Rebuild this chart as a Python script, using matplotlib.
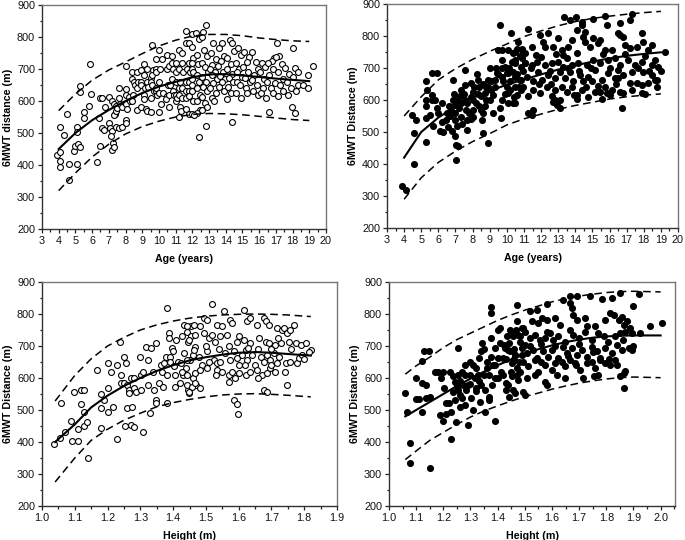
import matplotlib
matplotlib.use("Agg")
import matplotlib.pyplot as plt
from matplotlib.ticker import MultipleLocator

plt.rcParams['font.family'] = ['Liberation Sans', 'DejaVu Sans']

# ---------------- Top-left: age vs 6MWT (open circles) ----------------
tl_points = [
    (3.9,432),(4.05,442),(4.05,520),(4.1,413),(4.1,395),(4.3,493),(4.5,558),(4.6,403),(4.6,352),
    (4.9,445),(4.95,460),(5.1,518),(5.1,503),(5.15,465),(5.1,403),(5.3,648),(5.25,628),(5.3,455),
    (5.5,565),(5.5,548),(5.8,583),(5.9,715),(5.95,622),(6.3,408),(6.45,608),(6.4,548),(6.5,460),
    (6.6,610),(6.6,515),(6.7,510),(6.8,580),(7.0,612),(7.0,532),(7.05,517),(7.2,600),(7.2,505),
    (7.15,490),(7.25,470),(7.2,448),(7.3,455),(7.3,590),(7.35,560),(7.4,585),(7.3,555),(7.45,570),
    (7.5,578),(7.45,520),(7.6,642),(7.6,610),(7.65,590),(7.6,515),(7.8,580),(7.8,520),(8.0,708),
    (8.0,637),(8.05,620),(8.0,590),(8.1,575),(8.0,540),(8.0,530),(8.2,612),(8.25,600),(8.4,690),
    (8.4,670),(8.45,620),(8.4,600),(8.5,660),(8.55,650),(8.7,690),(8.7,640),(8.75,660),(8.7,572),
    (8.9,698),(8.9,660),(8.95,650),(8.9,580),(9.1,715),(9.1,680),(9.15,640),(9.1,620),(9.1,605),
    (9.2,575),(9.3,700),(9.3,660),(9.35,645),(9.3,570),(9.5,672),(9.5,660),(9.5,610),(9.55,565),
    (9.6,775),(9.65,698),(9.6,680),(9.6,650),(9.7,630),(9.8,730),(9.8,700),(9.85,690),(9.8,630),
    (9.9,620),(9.85,640),(10.0,760),(10.05,700),(10.0,660),(10.0,625),(10.1,590),(10.0,565),
    (10.2,730),(10.25,625),(10.5,745),(10.5,700),(10.55,650),(10.5,615),(10.45,605),(10.6,710),
    (10.65,650),(10.6,620),(10.6,580),(10.8,740),(10.8,720),(10.85,700),(10.8,670),(10.85,630),
    (10.9,620),(11.0,720),(11.0,690),(11.05,660),(11.0,620),(11.0,600),(11.1,610),(11.2,760),
    (11.2,700),(11.25,660),(11.2,640),(11.2,620),(11.25,580),(11.2,550),(11.3,570),(11.4,750),
    (11.4,720),(11.45,690),(11.4,640),(11.4,610),(11.6,820),(11.6,780),(11.65,700),(11.6,660),
    (11.6,630),(11.6,610),(11.6,575),(11.8,780),(11.8,720),(11.85,690),(11.8,660),(11.8,630),
    (11.8,615),(11.8,560),(12.0,810),(12.0,770),(12.05,735),(12.0,720),(12.0,700),(12.05,690),
    (12.0,670),(12.0,650),(12.0,630),(12.05,600),(12.0,560),
    (12.2,812),(12.4,793),(12.3,745),(12.35,715),(12.25,680),(12.4,660),(12.3,640),(12.45,620),
    (12.3,600),(12.45,572),(12.26,562),(12.1,557),(12.4,489),
    (12.82,836),(12.62,815),(12.55,800),(12.7,760),(12.9,740),(12.6,720),(12.75,705),(12.95,690),
    (12.55,675),(12.8,660),(12.65,645),(12.9,630),(12.6,612),(12.75,595),(12.85,580),(12.55,572),
    (12.82,522),
    (13.26,782),(13.1,750),(13.4,730),(13.2,712),(13.05,700),(13.35,690),(13.15,680),(13.45,668),
    (13.25,655),(13.05,640),(13.4,625),(13.2,610),(13.3,600),
    (13.76,780),(13.6,765),(13.9,740),(13.7,725),(13.55,710),(13.85,690),(13.65,678),(13.95,668),
    (13.75,660),(13.6,645),(13.9,630),
    (14.25,790),(14.4,782),(14.5,757),(14.1,735),(14.3,715),(14.05,700),(14.35,685),(14.2,672),
    (14.45,660),(14.15,645),(14.3,625),(14.1,605),(14.35,533),
    (14.75,765),(14.9,745),(14.6,720),(14.8,700),(14.65,690),(14.95,675),(14.7,660),(14.85,650),
    (14.6,625),(14.9,610),
    (15.1,752),(15.4,739),(15.25,723),(15.05,705),(15.35,690),(15.15,672),(15.45,660),(15.2,640),
    (15.3,625),
    (15.6,752),(15.8,722),(15.95,700),(15.7,680),(15.55,665),(15.85,650),(15.65,630),(15.9,620),
    (16.15,718),(16.35,705),(16.05,690),(16.3,670),(16.45,660),(16.2,640),(16.1,625),(16.4,610),
    (16.9,733),(16.75,726),(16.55,718),(16.85,700),(16.6,680),(16.95,655),(16.7,640),(16.8,625),
    (16.6,567),
    (17.05,780),(17.2,742),(17.0,739),(17.35,715),(17.1,690),(17.45,670),(17.25,650),(17.4,632),
    (17.15,615),
    (17.55,702),(17.8,685),(17.65,660),(17.9,640),(17.7,620),(17.95,580),
    (18.0,767),(18.15,702),(18.35,692),(18.05,675),(18.3,650),(18.2,630),(18.15,562),
    (18.9,680),(18.6,650),(18.9,640),(19.2,710),
]
tl_curve_age = [4, 5, 6, 7, 8, 9, 10, 11, 12, 13, 14, 15, 16, 17, 18, 19]
tl_mean  = [450, 500, 540, 572, 600, 625, 645, 660, 674, 683, 684, 680, 675, 670, 666, 662]
tl_upper = [570, 622, 665, 697, 722, 748, 772, 790, 803, 808, 808, 804, 797, 792, 788, 786]
tl_lower = [320, 375, 425, 465, 497, 520, 537, 550, 558, 561, 560, 557, 552, 547, 542, 539]

# ---------------- Top-right: age vs 6MWT (filled dots) ----------------
tr_points = [
    (3.88,330),(4.1,318),(4.48,553),(4.71,538),(4.6,496),(4.6,401),(5.3,658),(5.35,632),(5.3,600),
    (5.3,580),(5.3,543),(5.3,470),(5.6,684),(5.65,616),(5.65,600),(5.5,553),(5.7,519),(5.95,684),
    (5.95,575),(6.0,558),(6.1,502),(6.45,538),(6.55,517),(6.75,570),(6.7,550),(6.8,502),(6.85,663),
    (6.85,600),(6.95,585),(7.0,560),(6.95,538),(7.0,486),(7.05,413),(7.05,460),(7.15,455),
    (7.25,611),(7.35,590),(7.35,548),(7.4,525),(7.55,694),(7.55,647),(7.55,600),(7.6,569),
    (7.65,538),(7.65,507),(7.9,652),(8.0,626),(8.0,600),(8.0,569),(8.0,548),(8.3,663),(8.4,642),
    (8.5,611),(8.5,569),(8.55,538),(8.6,496),(8.7,621),(8.8,600),(8.9,642),(8.9,663),(8.9,467),
    (9.1,632),(9.2,616),(9.3,663),(9.4,684),(9.6,834),(9.5,756),(9.7,756),(9.7,725),(9.7,699),
    (9.7,673),(9.7,600),(9.6,574),(9.65,543),(9.9,704),(10.0,684),(10.0,642),(10.05,621),
    (10.05,590),(10.25,808),(10.35,746),(10.45,715),(10.45,673),(10.45,642),(10.5,590),
    (10.75,736),(10.85,704),(10.85,663),(10.85,632),(11.05,746),(11.05,715),
    (6.2,530),(6.5,560),(6.6,580),(6.9,620),(7.1,600),(7.2,575),(7.3,630),(7.5,620),(7.7,590),
    (7.8,560),(7.9,610),(8.1,640),(8.2,590),(8.3,620),(8.4,580),(8.6,650),(8.7,580),(8.8,640),
    (9.0,600),(9.1,660),(9.3,640),(9.35,700),(9.5,680),(9.8,660),(9.9,620),(10.1,700),(10.2,660),
    (10.3,720),(10.6,680),(10.7,640),(10.9,760),(10.95,690),(6.3,500),(7.1,520),(7.9,540),
    (8.25,680),(8.6,560),(9.2,560),(9.0,700),(10.4,610),(10.6,760),(5.8,600),(6.2,590),
    (13.36,858),(13.7,850),(14.04,858),(14.4,845),(14.4,834),(15.05,852),(15.73,862),(16.6,840),
    (17.29,869),(17.2,850),(15.83,834),(11.25,821),(11.93,803),(12.42,808),(14.08,819),
    (14.47,798),(14.56,811),(10.67,782),(12.13,782),(13.0,793),(13.78,787),(14.56,782),
    (15.05,793),(15.44,787),(16.5,808),(16.6,803),(16.8,798),(17.87,808),(17.97,782),
    (10.08,756),(10.47,751),(10.86,756),(11.45,767),(12.23,767),(12.71,767),(13.2,756),
    (13.59,767),(14.08,746),(14.85,767),(15.34,777),(15.73,756),(16.12,756),(16.9,772),
    (17.2,762),(17.6,767),(18.26,756),(18.46,772),
    (10.47,725),(10.86,730),(11.06,715),(11.45,710),(11.74,720),(12.23,710),(12.62,715),
    (13.0,720),(13.3,704),(13.49,730),(13.78,710),(14.17,715),(14.66,710),(15.05,725),
    (15.44,715),(15.92,725),(16.32,730),(16.6,710),(17.09,725),(17.48,710),(18.07,736),
    (18.46,710),(18.85,704),(18.65,725),
    (10.08,684),(10.38,689),(10.77,663),(11.16,673),(11.55,658),(11.84,689),(12.03,663),
    (12.42,678),(12.81,668),(13.1,689),(13.4,668),(13.69,689),(13.88,658),(14.27,678),
    (14.47,658),(14.76,673),(15.15,694),(15.54,663),(15.93,684),(16.32,668),(16.51,694),
    (16.8,678),(17.29,689),(17.68,699),(17.97,689),(18.46,678),(18.75,663),(19.24,749),
    (10.18,632),(10.57,616),(10.96,642),(11.25,611),(11.55,632),(11.93,621),(12.32,642),
    (12.62,611),(12.81,632),(13.1,600),(13.49,626),(13.78,642),(14.08,616),(14.37,632),
    (14.95,658),(15.15,626),(15.73,642),(16.12,632),(16.51,668),(16.6,626),(17.2,652),
    (17.6,652),(17.87,647),(18.26,652),(18.65,663),
    (10.38,590),(11.25,559),(11.45,554),(11.55,569),(12.71,595),(12.81,600),(12.91,585),
    (13.1,574),(14.08,602),(14.76,608),(15.44,626),(15.54,602),(15.83,621),(16.02,616),
    (16.8,621),(16.7,574),(17.87,623),(18.07,619),
    (11.4,700),(11.7,740),(12.0,735),(12.5,690),(12.9,745),(13.3,740),(13.6,700),(14.2,690),
    (14.9,700),(15.6,745),(16.0,700),(16.9,745),(17.9,720),(18.3,690),(19.0,690),(11.9,650),
    (12.6,650),(13.2,640),(13.9,615),(14.6,640),(15.3,645),(16.4,650),(17.3,630),(18.8,640),
]
tr_curve_age = [4, 5, 6, 7, 8, 9, 10, 11, 12, 13, 14, 15, 16, 17, 18, 19]
tr_mean  = [420, 500, 545, 580, 607, 628, 648, 664, 680, 695, 708, 720, 730, 738, 744, 749]
tr_upper = [550, 610, 663, 698, 727, 752, 775, 798, 816, 832, 845, 855, 862, 868, 873, 877]
tr_lower = [290, 357, 405, 440, 470, 495, 522, 541, 556, 571, 583, 593, 603, 610, 615, 619]

# ---------------- Bottom-left: height vs 6MWT (open circles) ----------------
bl_points = [
    (1.036,395),(1.056,413),(1.058,521),(1.07,432),(1.087,465),(1.09,404),(1.097,557),(1.11,440),
    (1.11,404),(1.118,518),(1.12,562),(1.128,562),(1.128,495),(1.128,451),(1.136,463),(1.14,351),
    (1.169,625),(1.18,549),(1.18,505),(1.18,444),(1.19,531),(1.2,646),(1.2,495),(1.2,568),
    (1.21,620),(1.218,510),(1.228,641),(1.228,409),(1.238,714),(1.24,610),(1.24,583),(1.25,667),
    (1.25,583),(1.254,450),(1.255,646),(1.26,578),(1.26,505),(1.265,562),(1.265,552),(1.27,453),
    (1.27,599),(1.275,510),(1.28,599),(1.28,568),(1.28,447),(1.287,557),
    (1.3,667),(1.302,610),(1.302,562),(1.307,620),(1.307,432),(1.318,698),(1.322,657),(1.322,578),
    (1.33,492),(1.333,693),(1.338,620),(1.343,562),(1.348,709),(1.348,531),(1.348,521),(1.358,583),
    (1.362,641),(1.367,620),(1.37,573),(1.372,646),(1.377,667),(1.38,818),(1.38,521),(1.381,610),
    (1.387,740),(1.387,724),(1.392,667),(1.392,651),(1.397,693),(1.4,685),(1.402,636),(1.407,610),
    (1.407,573),(1.41,719),(1.416,651),(1.42,583),(1.425,646),(1.43,610),(1.433,766),(1.44,630),
    (1.443,745),(1.445,714),(1.445,562),(1.448,552),(1.45,657),(1.456,761),(1.456,730),(1.46,672),
    (1.46,599),(1.466,698),(1.47,578),
    (1.519,831),(1.555,808),(1.616,813),
    (1.442,761),(1.463,766),(1.483,761),(1.493,787),(1.503,782),(1.534,766),(1.55,761),(1.575,782),
    (1.58,771),(1.626,777),(1.636,787),(1.656,766),(1.677,787),(1.682,777),(1.692,766),(1.717,756),
    (1.733,750),(1.738,756),(1.748,740),(1.769,766),(1.758,750),
    (1.427,730),(1.447,719),(1.468,735),(1.493,740),(1.508,724),(1.519,735),(1.529,714),(1.544,730),
    (1.565,735),(1.595,714),(1.616,719),(1.636,709),(1.662,724),(1.682,714),(1.692,709),(1.712,704),
    (1.728,709),(1.753,714),(1.774,709),(1.789,704),(1.804,709),(1.82,688),(1.814,681),
    (1.432,677),(1.442,657),(1.463,688),(1.478,667),(1.488,641),(1.503,683),(1.524,657),(1.534,646),
    (1.544,651),(1.559,677),(1.575,657),(1.585,683),(1.595,662),(1.6,641),(1.61,672),(1.621,688),
    (1.626,657),(1.641,672),(1.651,641),(1.667,667),(1.677,651),(1.687,672),(1.697,657),(1.707,677),
    (1.717,646),(1.723,667),(1.743,646),(1.758,651),(1.779,646),(1.784,662),(1.794,672),
    (1.427,620),(1.442,610),(1.468,615),(1.483,625),(1.503,630),(1.534,625),(1.549,620),(1.57,610),
    (1.58,620),(1.59,599),(1.6,615),(1.621,610),(1.636,620),(1.656,625),(1.672,610),(1.687,615),
    (1.697,630),(1.712,620),
    (1.442,578),(1.457,573),(1.468,583),(1.483,568),(1.447,557),(1.57,589),(1.677,562),(1.687,557),
    (1.748,578),(1.585,531),(1.595,520),(1.597,489),
    (1.5,700),(1.54,690),(1.57,700),(1.6,730),(1.63,695),(1.66,690),(1.7,690),(1.72,725),
    (1.76,690),(1.8,660),(1.53,610),(1.62,640),(1.66,600),(1.7,640),(1.74,620),(1.51,650),
]
bl_curve_h = [1.04, 1.10, 1.15, 1.20, 1.25, 1.30, 1.35, 1.40, 1.45, 1.50, 1.55, 1.60, 1.65, 1.70, 1.75, 1.82]
bl_mean  = [400, 455, 508, 545, 575, 600, 622, 640, 655, 665, 673, 679, 681, 679, 675, 670]
bl_upper = [528, 608, 660, 700, 727, 750, 766, 778, 787, 793, 797, 799, 800, 799, 797, 792]
bl_lower = [275, 350, 405, 440, 468, 490, 510, 523, 533, 541, 547, 550, 551, 549, 546, 541]

# ---------------- Bottom-right: height vs 6MWT (filled dots) ----------------
br_points = [
    (1.058,552),(1.066,495),(1.079,333),(1.079,397),(1.098,601),(1.098,534),(1.109,534),(1.122,583),
    (1.123,654),(1.128,683),(1.12,495),(1.135,578),(1.138,536),(1.147,683),(1.15,319),(1.15,541),
    (1.168,620),(1.18,620),(1.187,484),(1.193,599),(1.2,620),(1.2,465),(1.203,568),(1.21,521),
    (1.21,489),(1.22,521),(1.224,618),(1.23,495),(1.23,408),(1.236,605),(1.236,557),(1.242,589),
    (1.242,531),(1.246,463),(1.254,693),(1.254,610),(1.254,562),(1.26,547),(1.26,510),(1.267,536),
    (1.273,578),(1.28,641),(1.28,610),(1.28,515),(1.285,562),(1.29,453),(1.29,578),(1.297,610),
    (1.3,651),(1.303,536),(1.31,500),(1.316,599),(1.32,630),(1.322,568),(1.328,610),(1.332,662),
    (1.334,526),(1.34,683),(1.34,578),(1.344,709),(1.35,610),(1.353,562),(1.353,495),(1.36,630),
    (1.367,541),(1.37,531),(1.37,610),(1.377,822),(1.377,803),(1.377,724),(1.377,667),(1.38,578),
    (1.383,641),(1.39,693),(1.39,599),(1.39,466),(1.4,750),(1.4,662),(1.408,709),(1.41,756),
    (1.414,620),(1.42,662),(1.424,703),(1.426,693),(1.432,583),(1.432,562),(1.44,709),(1.44,541),
    (1.445,750),(1.445,683),(1.45,620),(1.457,730),(1.457,562),(1.463,672),(1.466,750),(1.47,610),
    (1.47,829),(1.473,777),(1.475,735),(1.482,714),(1.482,620),(1.488,672),(1.494,756),(1.494,557),
    (1.5,703),
    (1.26,590),(1.27,620),(1.3,580),(1.31,640),(1.33,590),(1.36,650),(1.35,690),(1.39,640),
    (1.42,610),(1.43,660),(1.46,690),(1.48,650),(1.25,575),(1.32,560),(1.4,600),
    (1.519,810),(1.544,813),(1.581,831),(1.642,845),(1.667,855),(1.691,855),(1.741,855),(1.784,848),
    (1.821,850),(1.851,865),(1.919,862),(1.9,825),(1.667,834),(1.673,818),
    (1.488,756),(1.525,777),(1.55,771),(1.562,787),(1.581,782),(1.611,787),(1.63,766),(1.679,797),
    (1.691,782),(1.722,787),(1.728,761),(1.759,761),(1.796,782),(1.814,803),(1.827,797),(1.845,782),
    (1.857,792),(1.864,766),(1.876,777),(1.888,756),(1.962,761),(2.005,771),
    (1.433,730),(1.458,740),(1.482,730),(1.5,745),(1.519,724),(1.538,735),(1.556,719),(1.575,724),
    (1.593,740),(1.605,719),(1.624,730),(1.648,714),(1.667,750),(1.679,735),(1.698,724),(1.722,745),
    (1.747,719),(1.771,740),(1.79,730),(1.808,714),(1.833,730),(1.851,740),(1.87,745),(1.894,740),
    (1.925,740),(1.894,689),(1.882,694),
    (1.439,688),(1.464,672),(1.488,693),(1.507,677),(1.532,688),(1.544,662),(1.568,683),(1.587,667),
    (1.6,688),(1.624,662),(1.642,698),(1.655,677),(1.673,693),(1.691,672),(1.71,688),(1.728,667),
    (1.747,698),(1.765,683),(1.778,662),(1.796,693),(1.821,677),(1.839,703),(1.857,688),
    (1.452,646),(1.47,630),(1.495,651),(1.513,636),(1.538,657),(1.55,620),(1.575,641),(1.6,625),
    (1.611,646),(1.636,651),(1.648,636),(1.667,657),(1.685,646),(1.704,625),(1.728,646),(1.747,651),
    (1.778,657),(1.796,646),(1.814,641),(1.833,657),
    (1.452,605),(1.476,594),(1.507,599),(1.538,610),(1.575,589),(1.581,579),(1.648,599),(1.716,599),
    (1.753,605),(1.771,610),(1.851,605),(1.864,615),(1.87,622),(1.439,579),(1.464,553),(1.5,548),
    (1.864,570),
    (1.52,700),(1.56,705),(1.61,700),(1.66,670),(1.7,705),(1.75,680),(1.81,660),(1.86,720),
    (1.9,700),(1.56,650),(1.62,610),(1.69,640),(1.76,630),(1.84,640),(1.46,660),(1.58,745),
]
br_curve_h = [1.06, 1.10, 1.15, 1.20, 1.25, 1.30, 1.35, 1.40, 1.45, 1.50, 1.55, 1.60, 1.65, 1.70,
              1.75, 1.80, 1.85, 1.90, 2.00]
br_mean  = [480, 500, 525, 550, 575, 598, 620, 640, 658, 675, 690, 702, 712, 720, 726, 730, 732, 733, 733]
br_upper = [612, 638, 665, 695, 720, 740, 760, 780, 797, 812, 825, 838, 848, 856, 862, 867, 870, 871, 869]
br_lower = [345, 372, 405, 430, 455, 478, 497, 513, 528, 542, 553, 565, 575, 584, 591, 597, 601, 603, 601]

# ---------------- Figure ----------------
W, H = 685, 540
fig = plt.figure(figsize=(W / 100, H / 100), dpi=100)

def px_axes(left, top, right, bottom):
    return fig.add_axes([left / W, 1 - bottom / H, (right - left) / W, (bottom - top) / H])

def style(ax, xlim, xmaj, xmin, xlabel, ylabel, fmt):
    ax.set_xlim(*xlim)
    ax.set_ylim(200, 900)
    ax.xaxis.set_major_locator(MultipleLocator(xmaj))
    ax.xaxis.set_minor_locator(MultipleLocator(xmin))
    ax.yaxis.set_major_locator(MultipleLocator(100))
    ax.yaxis.set_minor_locator(MultipleLocator(50))
    ax.xaxis.set_major_formatter(plt.FuncFormatter(lambda v, p: fmt.format(v)))
    ax.tick_params(which='both', direction='out', top=False, right=False,
                   labelsize=7.8, width=0.9, pad=2, colors='#222222', labelcolor='#111111')
    ax.tick_params(which='major', length=3)
    ax.tick_params(which='minor', length=1.8)
    for s in ['left', 'bottom']:
        ax.spines[s].set_color('#333333')
        ax.spines[s].set_linewidth(1.0)
    for s in ['top', 'right']:
        ax.spines[s].set_color('#777777')
        ax.spines[s].set_linewidth(1.0)
    ax.set_xlabel(xlabel, fontsize=7.7, fontweight='bold', labelpad=5.5)
    ax.set_ylabel(ylabel, fontsize=7.7, fontweight='bold', labelpad=3)

def curves(ax, xs, mean, upper, lower):
    ax.plot(xs, mean, color='black', lw=1.5, zorder=3)
    ax.plot(xs, upper, color='black', lw=1.1, ls=(0, (5, 3)), zorder=3)
    ax.plot(xs, lower, color='black', lw=1.1, ls=(0, (5, 3)), zorder=3)

def open_scatter(ax, pts):
    x, y = zip(*pts)
    ax.scatter(x, y, s=18, facecolors='white', edgecolors='black', linewidths=0.8, zorder=2)

def filled_scatter(ax, pts):
    x, y = zip(*pts)
    ax.scatter(x, y, s=26, color='black', linewidths=0, zorder=2)

ax1 = px_axes(42, 5, 326, 229)
open_scatter(ax1, tl_points)
curves(ax1, tl_curve_age, tl_mean, tl_upper, tl_lower)
style(ax1, (3, 20), 1, 0.5, 'Age (years)', '6MWT distance (m)', '{:.0f}')

ax2 = px_axes(387, 4, 678, 228)
filled_scatter(ax2, tr_points)
curves(ax2, tr_curve_age, tr_mean, tr_upper, tr_lower)
style(ax2, (3, 20), 1, 0.5, 'Age (years)', '6MWT Distance (m)', '{:.0f}')

ax3 = px_axes(42, 282, 337, 506)
open_scatter(ax3, bl_points)
curves(ax3, bl_curve_h, bl_mean, bl_upper, bl_lower)
style(ax3, (1.0, 1.9), 0.1, 0.05, 'Height (m)', '6MWT Distance (m)', '{:.1f}')

ax4 = px_axes(389, 282, 675, 506)
filled_scatter(ax4, br_points)
curves(ax4, br_curve_h, br_mean, br_upper, br_lower)
style(ax4, (1.0, 2.053), 0.1, 0.05, 'Height (m)', '6MWT Distance (m)', '{:.1f}')

fig.savefig('out.png', dpi=100)
